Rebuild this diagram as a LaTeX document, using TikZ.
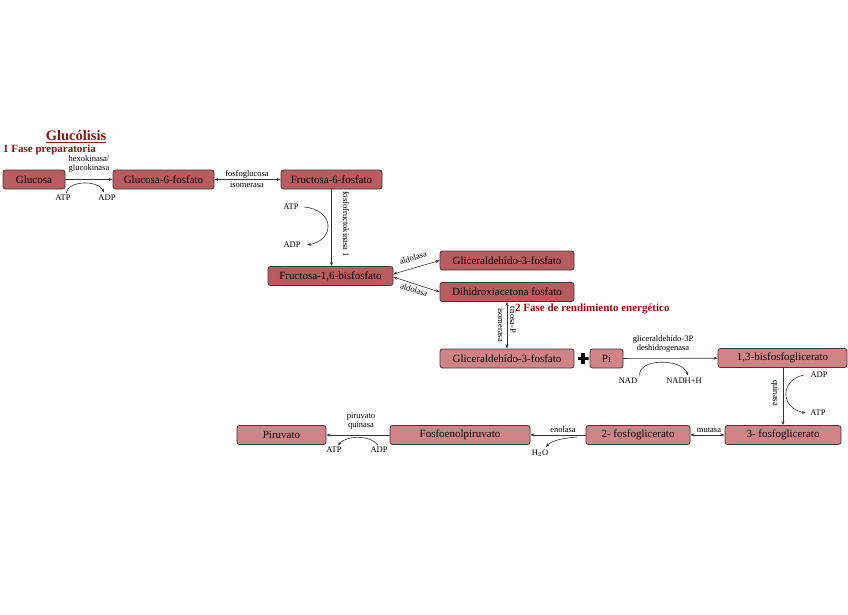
\documentclass[tikz,border=0pt]{standalone}
\usepackage{fontspec}
\setmainfont{Liberation Serif}
\usetikzlibrary{positioning,arrows.meta,calc}
\definecolor{faseUno}{HTML}{BA5C5E}
\definecolor{faseDos}{HTML}{D08486}
\definecolor{tituloRojo}{HTML}{9A0E0E}
\definecolor{bordeCaja}{HTML}{3A3A3A}

\tikzset{
  caja/.style={draw=bordeCaja, rounded corners=2.5pt, thick, minimum height=19pt,
    inner sep=1pt, font=\fontsize{11}{12}\selectfont},
  cajaUno/.style={caja, fill=faseUno},
  cajaDos/.style={caja, fill=faseDos},
  enzima/.style={font=\fontsize{8.5}{8.5}\selectfont, align=center, inner sep=0.5pt},
  flecha/.style={-{Stealth[length=4pt,width=3pt]}, line width=0.6pt, draw=black!80},
  dobleflecha/.style={{Stealth[length=4pt,width=3pt]}-{Stealth[length=4pt,width=3pt]}, line width=0.6pt, draw=black!80},
  fase/.style={font=\fontsize{11}{12}\selectfont\bfseries, text=tituloRojo, inner sep=0pt}
}

\begin{document}
\begin{tikzpicture}[x=1pt, y=-1pt]
  \useasboundingbox (0,0) rectangle (848,614);

  % titulo y fases
  \node[font=\fontsize{14.5}{16}\selectfont\bfseries, text=tituloRojo] (titulo) at (76,137) {\underline{Glucólisis}};
  \node[fase, anchor=west] (faseA) at (3,150) {1 Fase preparatoria};
  \node[fase, anchor=west] (faseB) at (515,309) {2 Fase de rendimiento energético};

  % fase preparatoria
  \node[cajaUno, minimum width=62pt] (gluc) at (34,179.5) {Glucosa};
  \node[cajaUno, minimum width=101pt] (glucSeis) at (163.5,179.5) {Glucosa-6-fosfato};
  \node[cajaUno, minimum width=101pt] (fructSeis) at (331.5,179.5) {Fructosa-6-fosfato};
  \node[cajaUno, minimum width=125pt] (fructBis) at (330.5,276) {Fructosa-1,6-bisfosfato};
  \node[cajaUno, minimum width=134pt] (gliArriba) at (507,260.5) {Gliceraldehído-3-fosfato};
  \node[cajaUno, minimum width=134pt] (dhap) at (507,292) {Dihidroxiacetona fosfato};

  % fase de rendimiento
  \node[cajaDos, minimum width=134pt] (gliAbajo) at (507,358.5) {Gliceraldehído-3-fosfato};
  \node[minimum size=11pt, inner sep=0pt, path picture={
      \draw[line width=3.2pt] (path picture bounding box.north) -- (path picture bounding box.south);
      \draw[line width=3.2pt] (path picture bounding box.west) -- (path picture bounding box.east);}]
    (mas) at (583,358.5) {};
  \node[cajaDos, minimum width=33pt] (pi) at (606.5,358.5) {Pi};
  \node[cajaDos, minimum width=129pt] (bpg) at (782.5,358) {1,3-bisfosfoglicerato};
  \node[cajaDos, minimum width=116pt] (tresPg) at (783,435) {3- fosfoglicerato};
  \node[cajaDos, minimum width=104pt] (dosPg) at (638,435) {2- fosfoglicerato};
  \node[cajaDos, minimum width=140pt] (pep) at (460,435) {Fosfoenolpiruvato};
  \node[cajaDos, minimum width=89pt] (piru) at (281.5,435) {Piruvato};

  % glucosa -> glucosa-6-fosfato
  \draw[flecha] (gluc) -- (glucSeis);
  \node[enzima] (hexo) at (89,164) {hexokinasa/\\glucokinasa};
  \node[enzima] (atpA) at (63,198) {ATP};
  \node[enzima] (adpA) at (107,198) {ADP};
  \draw[flecha] ($(atpA.north)+(3,-1)$) .. controls (68,180) and (98,180) .. ($(adpA.north)+(-3,-2)$);

  % isomerasa
  \draw[dobleflecha] (glucSeis) -- (fructSeis);
  \node[enzima] (fgi) at (247,179) {fosfoglucosa\\[2pt]isomerasa};

  % fosfofructokinasa
  \draw[flecha] (fructSeis.south) -- (fructSeis.south |- fructBis.north);
  \node[enzima, rotate=-90] (pfk) at (346,224) {fosfofructokinasa 1};
  \node[enzima] (atpB) at (291,207) {ATP};
  \node[enzima] (adpB) at (292,245) {ADP};
  \draw[flecha] ($(atpB.east)+(5,0)$) .. controls (335,210) and (335,240) .. ($(adpB.east)+(6,0)$);

  % aldolasa
  \draw[dobleflecha] ($(fructBis.east)+(0,-2)$) -- (gliArriba.west);
  \draw[dobleflecha] ($(fructBis.east)+(0,1)$) -- (dhap.west);
  \node[enzima, rotate=17] (aldoA) at (413,258) {aldolasa};
  \node[enzima, rotate=-17] (aldoB) at (414,290) {aldolasa};

  % triosa-P isomerasa
  \draw[dobleflecha] (dhap) -- (gliAbajo);
  \node[enzima, rotate=-90] (isoT) at (501,325) {isomerasa};
  \node[enzima, rotate=-90] (trio) at (513,320) {triosa-P};

  % gliceraldehido-3P deshidrogenasa
  \draw[flecha] (pi) -- (bpg);
  \node[enzima] (gapdh) at (663,344) {gliceraldehído-3P\\deshidrogenasa};
  \node[enzima] (nad) at (628,381) {NAD};
  \node[enzima] (nadh) at (684,381) {NADH+H};
  \draw[flecha] ($(nad.north east)+(2,-1)$) .. controls (636,358) and (682,358) .. ($(nadh.north)+(4,-2)$);

  % quinasa
  \draw[flecha] (bpg.south -| tresPg.north) -- (tresPg.north);
  \node[enzima, rotate=-90] (pgk) at (775,393) {quinasa};
  \node[enzima] (adpC) at (819,375) {ADP};
  \node[enzima] (atpC) at (818,413) {ATP};
  \draw[flecha] ($(adpC.west)+(-6,0)$) .. controls (780,380) and (780,408) .. ($(atpC.west)+(-4,0)$);

  % mutasa
  \draw[dobleflecha] (dosPg) -- (tresPg);
  \node[enzima] (mut) at (709,430) {mutasa};

  % enolasa
  \draw[flecha] (dosPg) -- (pep);
  \node[enzima] (eno) at (563,430) {enolasa};
  \node[enzima] (agua) at (540,453) {H$_2$O};
  \draw[flecha] (577,437) .. controls (565,438) and (552,440) .. ($(agua.north)+(6,-2)$);

  % piruvato quinasa
  \draw[flecha] (pep) -- (piru);
  \node[enzima] (pk) at (361,421) {piruvato\\quinasa};
  \node[enzima] (adpD) at (379,450) {ADP};
  \node[enzima] (atpD) at (334,450) {ATP};
  \draw[flecha] ($(adpD.north)+(-1,-1)$) .. controls (372,435) and (346,435) .. ($(atpD.north)+(4,-1)$);
\end{tikzpicture}
\end{document}
